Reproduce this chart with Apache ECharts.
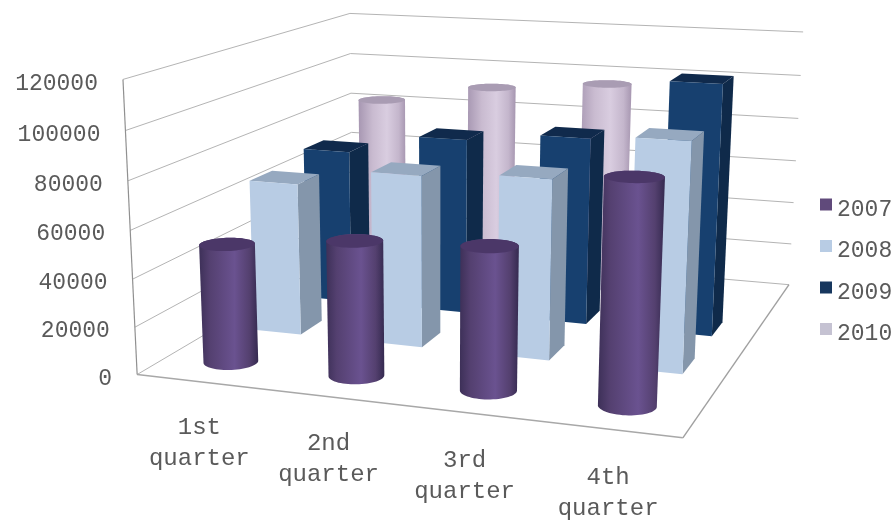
<!DOCTYPE html>
<html>
<head>
<meta charset="utf-8">
<style>html,body{margin:0;padding:0;background:#fff}#chart{width:896px;height:521px}</style>
<script src="https://cdn.jsdelivr.net/npm/echarts@6/dist/echarts.min.js"></script>
</head>
<body>
<div id="chart"></div>
<script>
// Quarterly figures by year
const quarters = ['1st\nquarter', '2nd\nquarter', '3rd\nquarter', '4th\nquarter'];
const years = ['2007', '2008', '2009', '2010'];
const values2007 = [50000, 56000, 58500, 89500];
const values2008 = [66500, 74000, 76500, 95500];
const values2009 = [70000, 79000, 83000, 109500];
const values2010 = [82500, 91500, 96000, null];
const valueTicks = [0, 20000, 40000, 60000, 80000, 100000, 120000];
const valueMax = 120000;

const rows = [values2007, values2008, values2009, values2010];
const FONT = '"Liberation Mono", monospace';
const TEXT = '#5a5a5a';
const BAR_RATIO = 0.4; // bar width within its band (gap width 150%)

// Oblique view of the unit box: [across, depth, height] -> screen position
const viewAnchors = [
  [0, 0, 0, 137, 372], [1, 0, 0, 683, 440], [1, 1, 0, 789, 282], [0, 1, 0, 353, 250],
  [0, 0, 1, 123, 80], [0, 1, 1, 350, 12], [1, 1, 1, 803, 33]
];

function solveView(anchors) {
  const A = [], b = [];
  anchors.forEach(function (a) {
    const X = a[0], Y = a[1], Z = a[2], x = a[3] / 1000, y = a[4] / 1000;
    A.push([X, Y, Z, 1, 0, 0, 0, 0, -x * X, -x * Y, -x * Z]); b.push(x);
    A.push([0, 0, 0, 0, X, Y, Z, 1, -y * X, -y * Y, -y * Z]); b.push(y);
  });
  const n = 11, M = [];
  for (let i = 0; i < n; i++) {
    M.push(new Array(n + 1).fill(0));
    for (let r = 0; r < A.length; r++) {
      for (let j = 0; j < n; j++) M[i][j] += A[r][i] * A[r][j];
      M[i][n] += A[r][i] * b[r];
    }
  }
  for (let c = 0; c < n; c++) {
    let p = c;
    for (let r = c + 1; r < n; r++) if (Math.abs(M[r][c]) > Math.abs(M[p][c])) p = r;
    const t = M[c]; M[c] = M[p]; M[p] = t;
    for (let r = 0; r < n; r++) {
      if (r === c) continue;
      const f = M[r][c] / M[c][c];
      for (let j = c; j <= n; j++) M[r][j] -= f * M[c][j];
    }
  }
  return M.map(function (row, i) { return row[n] / row[i]; });
}
const V = solveView(viewAnchors);
function project(u, v, h) {
  const w = V[8] * u + V[9] * v + V[10] * h + 1;
  return [
    1000 * (V[0] * u + V[1] * v + V[2] * h + V[3]) / w,
    1000 * (V[4] * u + V[5] * v + V[6] * h + V[7]) / w
  ];
}

// Reads a data point through the axes: normalised position along the band and height
function locate(params, api, idx, value) {
  const cs = params.coordSys;
  const pt = api.coord([idx, value]);
  return {
    u: (pt[0] - cs.x) / cs.width,
    h: (cs.y + cs.height - pt[1]) / cs.height,
    band: api.size([1, 0])[0] / cs.width
  };
}

function poly(points, fill) {
  return { type: 'polygon', shape: { points: points }, style: { fill: fill }, silent: true };
}
function sideGradient(stops) {
  return new echarts.graphic.LinearGradient(0, 0, 1, 0, stops);
}

function hull(points) {
  const pts = points.slice().sort(function (a, b) { return a[0] - b[0] || a[1] - b[1]; });
  const cross = function (o, a, b) { return (a[0] - o[0]) * (b[1] - o[1]) - (a[1] - o[1]) * (b[0] - o[0]); };
  const lo = [], up = [];
  pts.forEach(function (p) {
    while (lo.length > 1 && cross(lo[lo.length - 2], lo[lo.length - 1], p) <= 0) lo.pop();
    lo.push(p);
  });
  pts.slice().reverse().forEach(function (p) {
    while (up.length > 1 && cross(up[up.length - 2], up[up.length - 1], p) <= 0) up.pop();
    up.push(p);
  });
  return lo.slice(0, -1).concat(up.slice(0, -1));
}

function cylinder(u, v, du, dv, h, style) {
  const ring = function (level) {
    const pts = [];
    for (let i = 0; i < 64; i++) {
      const a = i / 64 * Math.PI * 2;
      pts.push(project(u + Math.cos(a) * du / 2, v + Math.sin(a) * dv / 2, level));
    }
    return pts;
  };
  const top = ring(h);
  return {
    type: 'group',
    children: [
      poly(hull(ring(0).concat(top)), sideGradient(style.body)),
      poly(top, style.top)
    ]
  };
}

function box(u, v, du, dv, h, style) {
  const l = u - du / 2, r = u + du / 2, f = v - dv / 2, b = v + dv / 2;
  return {
    type: 'group',
    children: [
      poly([project(r, f, 0), project(r, b, 0), project(r, b, h), project(r, f, h)], style.side),
      poly([project(l, f, h), project(r, f, h), project(r, b, h), project(l, b, h)], style.top),
      poly([project(l, f, 0), project(r, f, 0), project(r, f, h), project(l, f, h)], style.front)
    ]
  };
}

const rowStyles = [
  { kind: cylinder, color: '#604a7b', top: '#4b3768',
    body: [{ offset: 0, color: '#3d3058' }, { offset: 0.18, color: '#544070' }, { offset: 0.6, color: '#6a5290' }, { offset: 0.85, color: '#54406f' }, { offset: 1, color: '#352a50' }] },
  { kind: box, color: '#b8cce4', front: '#b8cce4', side: '#8496ab', top: '#96a9c0' },
  { kind: box, color: '#17375e', front: '#17406f', side: '#0f2a4a', top: '#102a4c' },
  { kind: cylinder, color: '#c5c2d2', top: '#a99cb3',
    body: [{ offset: 0, color: '#a797b2' }, { offset: 0.3, color: '#c9bbd0' }, { offset: 0.6, color: '#d9cde0' }, { offset: 0.85, color: '#c4b6cc' }, { offset: 1, color: '#a696b0' }] }
];

function renderBar(rowIndex) {
  return function (params, api) {
    const value = api.value(1);
    if (value == null || isNaN(value)) return;
    const at = locate(params, api, api.value(0), value);
    const style = rowStyles[rowIndex];
    const depthBand = 1 / rows.length;
    return style.kind(at.u, (rowIndex + 0.5) * depthBand, at.band * BAR_RATIO, depthBand * BAR_RATIO, at.h, style);
  };
}

// Walls, floor and the value labels beside the left wall
function renderTick(params, api) {
  const value = api.value(1);
  const at = locate(params, api, 0, value);
  const a = project(0, 0, at.h), b = project(0, 1, at.h), c = project(1, 1, at.h);
  return {
    type: 'group',
    children: [
      { type: 'polyline', shape: { points: [a, b, c] }, style: { stroke: '#b4b4b4', lineWidth: 1, fill: null } },
      { type: 'text', x: a[0] - 25, y: a[1] + 4,
        style: { text: String(value), font: '23px ' + FONT, fill: TEXT, textAlign: 'right', textVerticalAlign: 'middle' } }
    ]
  };
}
function renderFrame() {
  const corners = [project(0, 0, 0), project(1, 0, 0), project(1, 1, 0), project(0, 1, 0)];
  return {
    type: 'group',
    children: [
      { type: 'polyline', shape: { points: [corners[1], corners[2]] }, style: { stroke: '#a0a0a0', lineWidth: 1.4, fill: null } },
      { type: 'polyline', shape: { points: [corners[0], corners[1]] }, style: { stroke: '#a8a8a8', lineWidth: 1.4, fill: null } },
      { type: 'polyline', shape: { points: [project(0, 0, 0), project(0, 0, 1)] }, style: { stroke: '#909090', lineWidth: 1.2, fill: null } }
    ]
  };
}
function renderQuarterLabel(params, api) {
  const i = api.value(0);
  const at = locate(params, api, i, 0);
  const p = project(at.u, 0, 0);
  return {
    type: 'text', x: p[0], y: p[1] + 30 + 4 * at.u,
    style: { text: quarters[i], font: '24px ' + FONT, fill: TEXT, lineHeight: 31, textAlign: 'center', textVerticalAlign: 'top' }
  };
}

const barSeries = years.map(function (year, j) {
  return {
    type: 'custom', name: year, z: 10 - j, silent: true, clip: false,
    itemStyle: { color: rowStyles[j].color },
    renderItem: renderBar(j),
    encode: { x: 0, y: 1 },
    data: rows[j].map(function (val, i) { return [i, val]; })
  };
});

const chart = echarts.init(document.getElementById('chart'));
chart.setOption({
  animation: false,
  backgroundColor: '#ffffff',
  grid: { left: 0, right: 0, top: 0, bottom: 0 },
  xAxis: { type: 'category', data: quarters, show: false },
  yAxis: { type: 'value', min: 0, max: valueMax, interval: 20000, show: false },
  legend: {
    orient: 'vertical', left: 820, top: 198, padding: 0, itemGap: 18.5,
    itemWidth: 12, itemHeight: 12, selectedMode: false,
    data: years.map(function (y) { return { name: y, icon: 'rect' }; }),
    formatter: '{t|{name}}',
    textStyle: {
      rich: { t: { fontFamily: FONT, fontSize: 23, color: TEXT, height: 26, padding: [10, 0, 0, 0] } }
    }
  },
  series: [
    { type: 'custom', name: 'ticks', z: 1, silent: true, clip: false, renderItem: renderTick, encode: { x: 0, y: 1 },
      data: valueTicks.map(function (t) { return [0, t]; }) },
    { type: 'custom', name: 'frame', z: 2, silent: true, clip: false, renderItem: renderFrame, encode: { x: 0, y: 1 }, data: [[0, 0]] },
    { type: 'custom', name: 'quarters', z: 2, silent: true, clip: false, renderItem: renderQuarterLabel, encode: { x: 0, y: 1 },
      data: quarters.map(function (q, i) { return [i, 0]; }) }
  ].concat(barSeries)
});
</script>
</body>
</html>
